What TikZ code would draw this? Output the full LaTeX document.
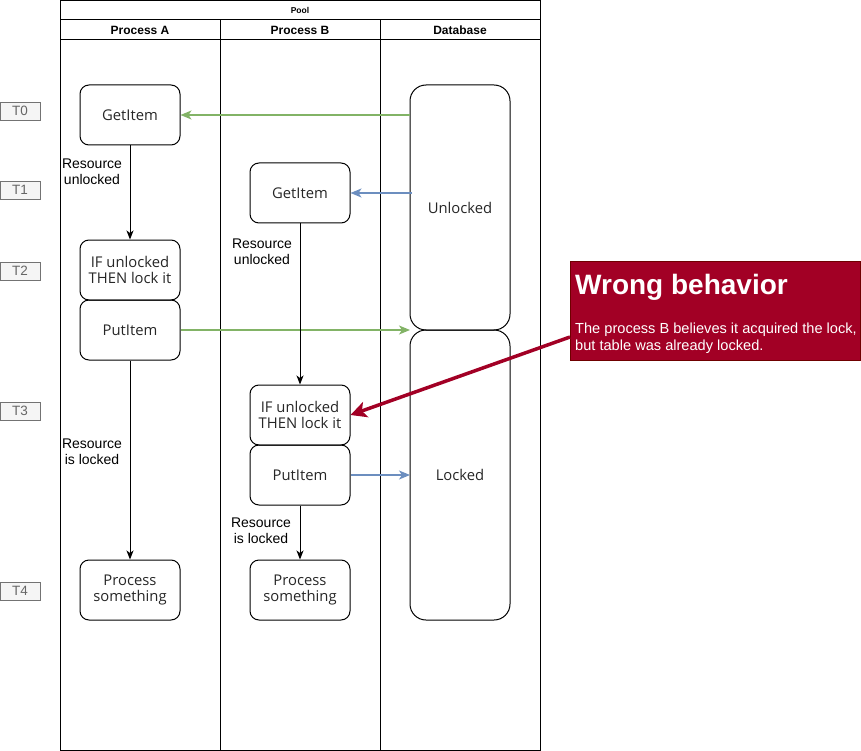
\documentclass[tikz,border=0pt]{standalone}
\usepackage{fontspec}
\setmainfont{Liberation Sans}
\newfontfamily\boxfont{Open Sans}
\usetikzlibrary{arrows.meta}
\definecolor{grn}{HTML}{82B366}
\definecolor{blu}{HTML}{6C8EBF}
\definecolor{wine}{HTML}{A20025}
\definecolor{wineb}{HTML}{6F0000}
\begin{document}
\begin{tikzpicture}[x=1pt,y=-1pt,
  stepbox/.style={draw,line width=1pt,rounded corners=9pt,minimum width=100pt,inner sep=2pt,font=\boxfont\fontsize{14.8}{16.5}\selectfont,align=center,text=black!85},
  dbbox/.style={draw,line width=1pt,rounded corners=16pt,minimum width=100pt,font=\boxfont\fontsize{14.8}{16.5}\selectfont,text=black!85},
  tlab/.style={draw=black!55,fill=black!4,text=black!60,minimum width=40pt,minimum height=18pt,inner sep=0pt,font=\fontsize{13.5}{15}\selectfont},
  flowarr/.style={-{Stealth[length=9pt,width=7pt,inset=2.5pt]},line width=1pt},
  colarr/.style={-{Stealth[length=11pt,width=9pt,inset=3pt]},line width=1.6pt},
  lbl/.style={font=\fontsize{14}{16}\selectfont,align=center,inner sep=1pt,fill=white},
  hdr/.style={font=\bfseries\fontsize{12}{14}\selectfont}]
\useasboundingbox (0,0) rectangle (861,751);
% pool
\draw[line width=1pt] (60,0.5) rectangle (540,750);
\draw[line width=1pt] (60,20) -- (540,20);
\draw[line width=1pt] (60,40) -- (540,40);
\draw[line width=1pt] (220,20) -- (220,750);
\draw[line width=1pt] (380,20) -- (380,750);
\node[font=\bfseries\fontsize{8.5}{10}\selectfont] (pool) at (300,10) {Pool};
\node[hdr] (ha) at (140,30) {Process A};
\node[hdr] (hb) at (300,30) {Process B};
\node[hdr] (hc) at (460,30) {Database};
% time labels
\node[tlab] (t0) at (20,111) {T0};
\node[tlab] (t1) at (20,190) {T1};
\node[tlab] (t2) at (20,271) {T2};
\node[tlab] (t3) at (20,411) {T3};
\node[tlab] (t4) at (20,591) {T4};
% process A
\node[stepbox,minimum height=60pt] (ag) at (130,115) {GetItem};
\node[stepbox,minimum height=60pt] (ai) at (130,270) {IF unlocked\\THEN lock it};
\node[stepbox,minimum height=60pt] (ap) at (130,330) {PutItem};
\node[stepbox,minimum height=60pt] (as) at (130,590) {Process\\something};
% process B
\node[stepbox,minimum height=60pt] (bg) at (300,193) {GetItem};
\node[stepbox,minimum height=60pt] (bi) at (300,415) {IF unlocked\\THEN lock it};
\node[stepbox,minimum height=60pt] (bp) at (300,475) {PutItem};
\node[stepbox,minimum height=60pt] (bs) at (300,590) {Process\\something};
% database
\node[dbbox,minimum height=245pt] (du) at (460,207.5) {Unlocked};
\node[dbbox,minimum height=290pt] (dl) at (460,475) {Locked};
\coordinate (dug) at (410,115);
\coordinate (dub) at (412,193);
\coordinate (dlg) at (410,330);
\coordinate (dlb) at (410,475);
% connectors
\draw[colarr,draw=grn] (dug) -- (ag.east);
\draw[colarr,draw=blu] (dub) -- (bg.east);
\draw[colarr,draw=grn] (ap.east) -- (dlg);
\draw[colarr,draw=blu] (bp.east) -- (dlb);
\draw[flowarr] (ag.south) -- (ai.north);
\draw[flowarr] (ap.south) -- (as.north);
\draw[flowarr] (bg.south) -- (bi.north);
\draw[flowarr] (bp.south) -- (bs.north);
\node[lbl] (l1) at (92,172) {Resource\\unlocked};
\node[lbl] (l2) at (92,452) {Resource\\is locked};
\node[lbl] (l3) at (262,252) {Resource\\unlocked};
\node[lbl] (l4) at (261,531) {Resource\\is locked};
% callout
\node[draw=wineb,fill=wine,minimum width=290pt,minimum height=99pt,anchor=north west,inner sep=0pt] (wb) at (570,261) {};
\node[anchor=west,text=white,font=\bfseries\fontsize{28}{32}\selectfont,inner sep=0pt] (wbt) at (575,287) {Wrong behavior};
\node[anchor=north west,text=white,font=\fontsize{14.6}{16.5}\selectfont,align=left,inner sep=0pt] (wbb) at (575,323) {The process B believes it acquired the lock,\\but table was already locked.};
\draw[wine,line width=3.5pt,-{Stealth[length=16pt,width=16pt,inset=4pt]}] (wb.west |- 0,337) -- (bi.east);
\end{tikzpicture}
\end{document}
